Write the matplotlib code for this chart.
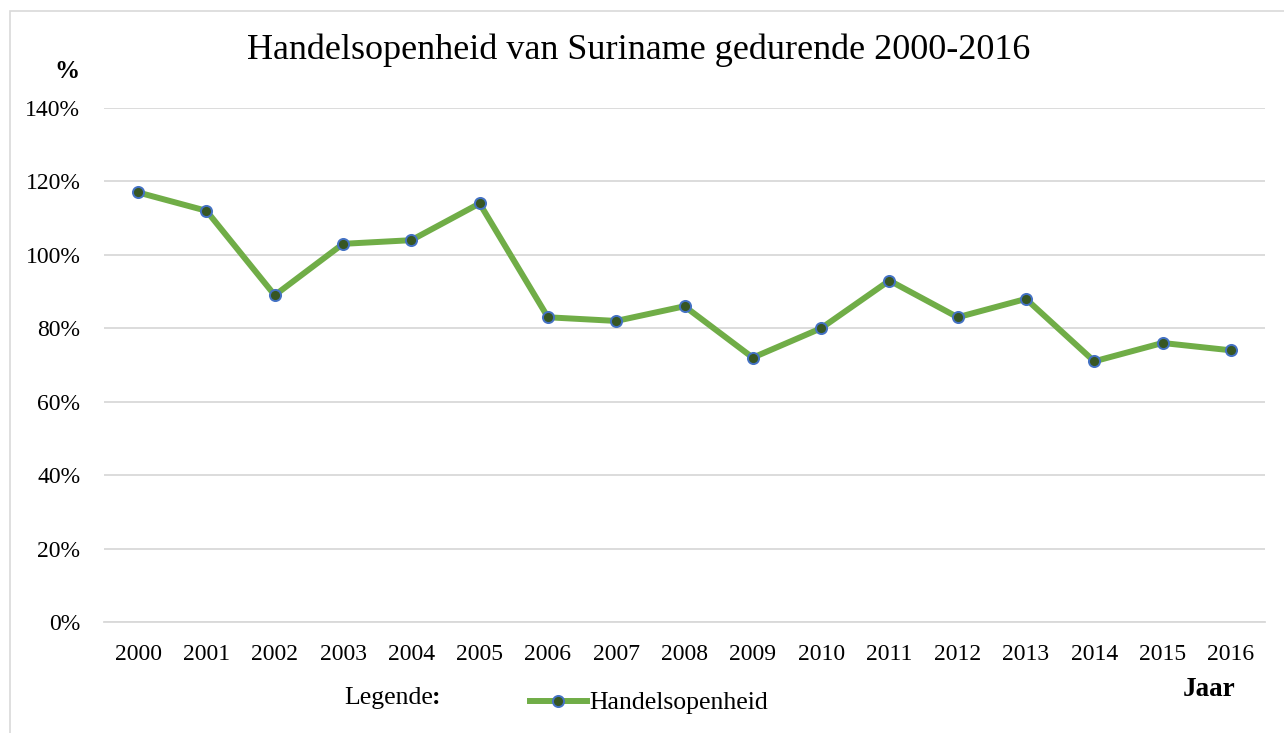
import matplotlib
matplotlib.use('Agg')
import matplotlib.pyplot as plt
from matplotlib.patches import Rectangle
from matplotlib.ticker import FuncFormatter

years = ['2000', '2001', '2002', '2003', '2004', '2005', '2006', '2007', '2008',
         '2009', '2010', '2011', '2012', '2013', '2014', '2015', '2016']
openness = [117, 112, 89, 103, 104, 114, 83, 82, 86, 72, 80, 93, 83, 88, 71, 76, 74]

plt.rcParams['font.family'] = ['Liberation Serif', 'DejaVu Serif']

W, H = 1284, 733
fig = plt.figure(figsize=(W / 100, H / 100), dpi=100)
ax = fig.add_axes([104 / W, 1 - 622 / H, (1265 - 104) / W, (622 - 108) / H])

# outer chart border
fig.patches.append(Rectangle((10 / W, -0.01), 1.02, 1 - 11 / H + 0.01, transform=fig.transFigure,
                             fill=False, edgecolor='#d9d9d9', linewidth=1.2))

x = range(len(years))
ax.plot(x, openness, color='#70ad47', linewidth=4.3, marker='o', markersize=8,
        markerfacecolor='#375623', markeredgecolor='#4472c4', markeredgewidth=1.4,
        label='Handelsopenheid', solid_joinstyle='round', zorder=3)

ax.set_xlim(-0.5, len(years) - 0.5)
ax.set_ylim(0, 140)
ax.set_yticks(range(0, 141, 20))
ax.yaxis.set_major_formatter(FuncFormatter(lambda v, p: '%d%%' % v))
ax.set_xticks(list(x))
ax.set_xticklabels(years)
ax.grid(True, axis='y', color='#d9d9d9', linewidth=1.3)
ax.set_axisbelow(True)
for s in ax.spines.values():
    s.set_visible(False)
ax.spines['bottom'].set_visible(True)
ax.spines['bottom'].set_color('#d9d9d9')
ax.spines['bottom'].set_linewidth(1.3)
ax.tick_params(length=0, labelsize=17, colors='black')
ax.tick_params(axis='x', pad=16)
ax.tick_params(axis='y', pad=17)

fig.text(639 / W, 1 - 50 / H, 'Handelsopenheid van Suriname gedurende 2000-2016',
         ha='center', va='center', fontsize=26)
fig.text(67 / W, 1 - 72 / H, '%', ha='center', va='center', fontsize=18, fontweight='bold')
fig.text(1209 / W, 1 - 690 / H, 'Jaar', ha='center', va='center', fontsize=19.5, fontweight='bold')
fig.text(344 / W, 1 - 698 / H, 'Legende', ha='left', va='center', fontsize=18.5)
fig.text(432 / W, 1 - 698 / H, ':', ha='left', va='center', fontsize=18.5, fontweight='bold')

leg = ax.legend(loc='center left', bbox_to_anchor=(530 / W, 1 - 703 / H),
                bbox_transform=fig.transFigure, frameon=False, fontsize=18.5,
                handlelength=2.2, handletextpad=0.1, borderpad=0, borderaxespad=0)

fig.savefig('out.png', dpi=100)
